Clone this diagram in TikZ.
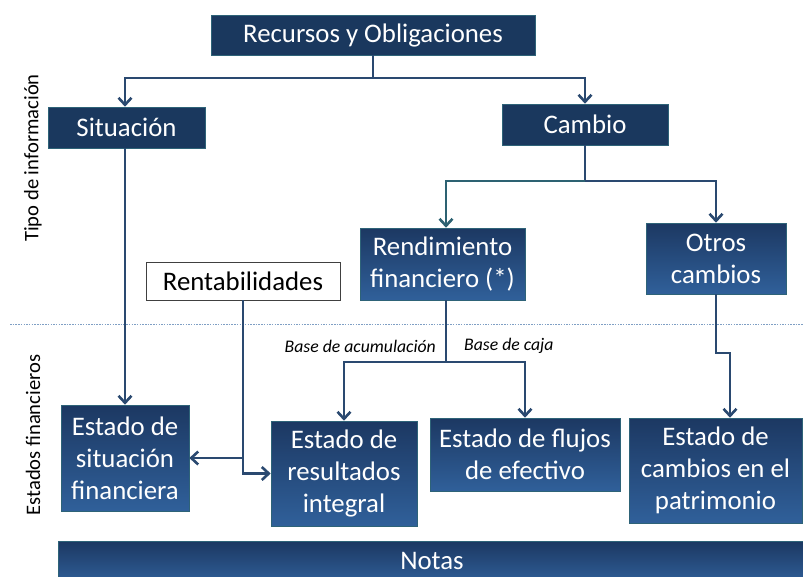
\documentclass[tikz,border=0pt]{standalone}
\usepackage{fontspec}
\setmainfont{Carlito}
\usetikzlibrary{arrows.meta,calc}
\definecolor{navy}{HTML}{1A385E}
\definecolor{gtop}{HTML}{1C3862}
\definecolor{gbot}{HTML}{30609A}
\definecolor{conn}{HTML}{2A4970}
\definecolor{tealc}{HTML}{2D6272}
\definecolor{dotc}{HTML}{7F9FC4}
\definecolor{edgec}{HTML}{2E6378}
\tikzset{
  solidbox/.style={fill=navy, draw=edgec, line width=0.6pt, text=white, align=center, inner sep=0pt,
    font=\fontsize{26.8}{32}\selectfont},
  gradbox/.style={top color=gtop, bottom color=gbot, draw=edgec, line width=0.6pt, text=white, align=center, inner sep=0pt,
    font=\fontsize{26.8}{32}\selectfont},
  whitebox/.style={fill=white, draw=black!75, line width=0.8pt, text=black, align=center, inner sep=0pt,
    font=\fontsize{26.8}{32}\selectfont},
  arr/.style={draw=conn, line width=2.6pt, -{Straight Barb[length=7pt,width=13pt,line width=2.6pt]}},
  ln/.style={draw=conn, line width=2.6pt},
  sidelbl/.style={rotate=90, font=\fontsize{20.6}{24}\selectfont, text=black},
  baselbl/.style={font=\fontsize{17.7}{21}\selectfont\itshape, text=black, inner sep=0pt}
}
\begin{document}
\begin{tikzpicture}[x=1pt,y=-1pt]
\useasboundingbox (0,0) rectangle (803,576);
\clip (0,0) rectangle (803,576);
\fill[white] (0,0) rectangle (803,576);
% dotted separator
\draw[dotc, line width=0.8pt, dash pattern=on 1.5pt off 1.2pt] (10,324) -- (803,324);
% side labels
\node[sidelbl] (tipo) at (33,158) {Tipo de información};
\node[sidelbl] (estf) at (33,435) {Estados financieros};
% nodes
\node[solidbox, minimum width=324pt, minimum height=40pt] (rec) at (373,35) {Recursos y Obligaciones};
\node[solidbox, minimum width=157pt, minimum height=41pt] (sit) at (126.5,127.5) {Situación};
\node[solidbox, minimum width=166pt, minimum height=41pt] (cam) at (585,124.5) {Cambio};
\node[gradbox, minimum width=165pt, minimum height=72pt] (ren) at (442.5,264) {Rendimiento\\financiero (*)};
\node[gradbox, minimum width=140pt, minimum height=71pt] (otr) at (716,258.5) {Otros\\cambios};
\node[whitebox, minimum width=194pt, minimum height=38pt] (rent) at (243,281) {Rentabilidades};
\node[gradbox, minimum width=128pt, minimum height=106pt] (esf) at (125,458) {Estado de\\situación\\financiera};
\node[gradbox, minimum width=146pt, minimum height=105pt] (eri) at (344,473.5) {Estado de\\resultados\\integral};
\node[gradbox, minimum width=190pt, minimum height=73pt] (efe) at (525,454.5) {Estado de flujos\\de efectivo};
\node[gradbox, minimum width=173pt, minimum height=105pt] (ecp) at (715.5,470.5) {Estado de\\cambios en el\\patrimonio};
\node[gradbox, minimum width=745pt, minimum height=44pt] (notas) at (430.5,563) {};
\node[text=white, font=\fontsize{26.8}{32}\selectfont, inner sep=0pt] (notastxt) at (432,560.5) {Notas};
% labels
\node[baselbl, anchor=east] (bacum) at (436,346) {Base de acumulación};
\node[baselbl, anchor=west] (bcaja) at (464,346) {Base de caja};
% connectors
\coordinate (j1) at (373,78);
\draw[ln] (rec.south) -- (j1);
\draw[arr] (j1) -| ($(sit.north)+(-1.5,0)$);
\draw[arr] (j1) -| (cam.north);
\coordinate (j2) at (585,181);
\draw[ln] (cam.south) -- (j2);
\draw[arr, draw=tealc] (j2) -| ($(ren.north)+(3.5,0)$);
\draw[arr] (j2) -| (otr.north);
\draw[arr] (sit.south -| esf.north) -- (esf.north);
\draw[arr] (rent.south) |- (eri.west);
\draw[arr] (rent.south |- esf.east) -- (esf.east);
\coordinate (j3) at (446,362);
\draw[ln] ($(ren.south)+(3.5,0)$) -- (j3);
\draw[arr] (j3) -| (eri.north);
\draw[arr] (j3) -| (efe.north);
\coordinate (k1) at (730,353);
\draw[arr] (otr.south) |- (k1) -- (k1 |- ecp.north);
\end{tikzpicture}
\end{document}
